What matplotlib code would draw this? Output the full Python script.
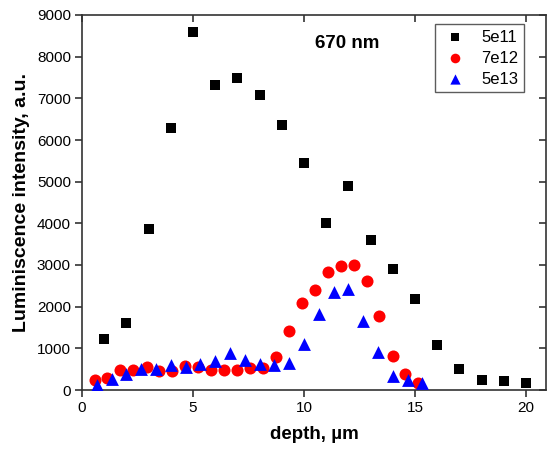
import matplotlib
matplotlib.use("Agg")
import matplotlib.pyplot as plt

plt.rcParams['font.family'] = ['Liberation Sans', 'DejaVu Sans']

# 5e11 (black squares)
x_5e11 = [1, 2, 3, 4, 5, 6, 7, 8, 9, 10, 11, 12, 13, 14, 15, 16, 17, 18, 19, 20]
y_5e11 = [1230, 1620, 3870, 6280, 8580, 7330, 7490, 7080, 6355, 5450,
          4015, 4900, 3600, 2905, 2195, 1085, 510, 230, 206, 158]

# 7e12 (red circles)
x_7e12 = [0.57, 1.14, 1.73, 2.31, 2.91, 3.48, 4.07, 4.65, 5.24, 5.83, 6.40, 6.98, 7.57,
          8.15, 8.74, 9.31, 9.91, 10.48, 11.08, 11.65, 12.24, 12.82, 13.39, 13.99, 14.56, 15.14]
y_7e12 = [239, 295, 470, 486, 558, 462, 455, 582, 542, 486, 470, 478, 526,
          526, 797, 1413, 2098, 2402, 2841, 2977, 3008, 2625, 1787, 805, 383, 168]

# 5e13 (blue triangles)
x_5e13 = [0.67, 1.33, 2.0, 2.67, 3.33, 4.0, 4.67, 5.33, 6.0, 6.67, 7.33, 8.0, 8.67,
          9.33, 10.0, 10.67, 11.33, 12.0, 12.67, 13.33, 14.0, 14.67, 15.33]
y_5e13 = [110, 254, 374, 503, 503, 599, 551, 630, 702, 893, 718, 630, 599,
          647, 1093, 1828, 2355, 2419, 1660, 910, 343, 230, 158]

labels = ["5e11", "7e12", "5e13"]
x_ticks = [0, 5, 10, 15, 20]
y_ticks = [0, 1000, 2000, 3000, 4000, 5000, 6000, 7000, 8000, 9000]

fig = plt.figure(figsize=(5.47, 4.51), dpi=100)
ax = fig.add_axes([82/547, 1 - 390/451, (546-82)/547, (390-15)/451])

ax.scatter(x_5e11, y_5e11, marker='s', s=50, color='black', label=labels[0], zorder=3, linewidths=0)
ax.scatter(x_7e12, y_7e12, marker='o', s=75, color='#ff0000', label=labels[1], zorder=3, linewidths=0)
ax.scatter(x_5e13, y_5e13, marker='^', s=85, color='#0000ff', label=labels[2], zorder=3, linewidths=0)

ax.set_xlim(0, 20.9)
ax.set_ylim(0, 9000)
ax.set_xticks(x_ticks)
ax.set_yticks(y_ticks)

spine_color = '#333333'
for sp in ax.spines.values():
    sp.set_color(spine_color)
    sp.set_linewidth(1.2)

ax.tick_params(axis='both', direction='out', length=5, width=1.2, color=spine_color,
               labelsize=11, pad=3)

top = ax.secondary_xaxis('top')
top.set_xticks(x_ticks)
top.tick_params(direction='in', length=5, width=1.2, color=spine_color, labeltop=False)
top.spines['top'].set_visible(False)
right = ax.secondary_yaxis('right')
right.set_yticks(y_ticks)
right.tick_params(direction='in', length=5, width=1.2, color=spine_color, labelright=False)
right.spines['right'].set_visible(False)

ax.set_xlabel("depth, µm", fontsize=13.5, fontweight='bold', labelpad=8)
ax.set_ylabel("Luminiscence intensity, a.u.", fontsize=14, fontweight='bold', labelpad=5)

fig.text(347/547, 1 - 43/451, "670 nm", fontsize=13.5, fontweight='bold',
         ha='center', va='center')

leg = ax.legend(loc='upper right', bbox_to_anchor=(0.953, 0.976), borderaxespad=0,
                fontsize=12, frameon=True, fancybox=False, markerscale=0.8,
                handletextpad=0.8, borderpad=0.35, labelspacing=0.35, handlelength=1.6)
leg.get_frame().set_edgecolor('#333333')
leg.get_frame().set_linewidth(1.0)

fig.savefig("out.png", dpi=100)
